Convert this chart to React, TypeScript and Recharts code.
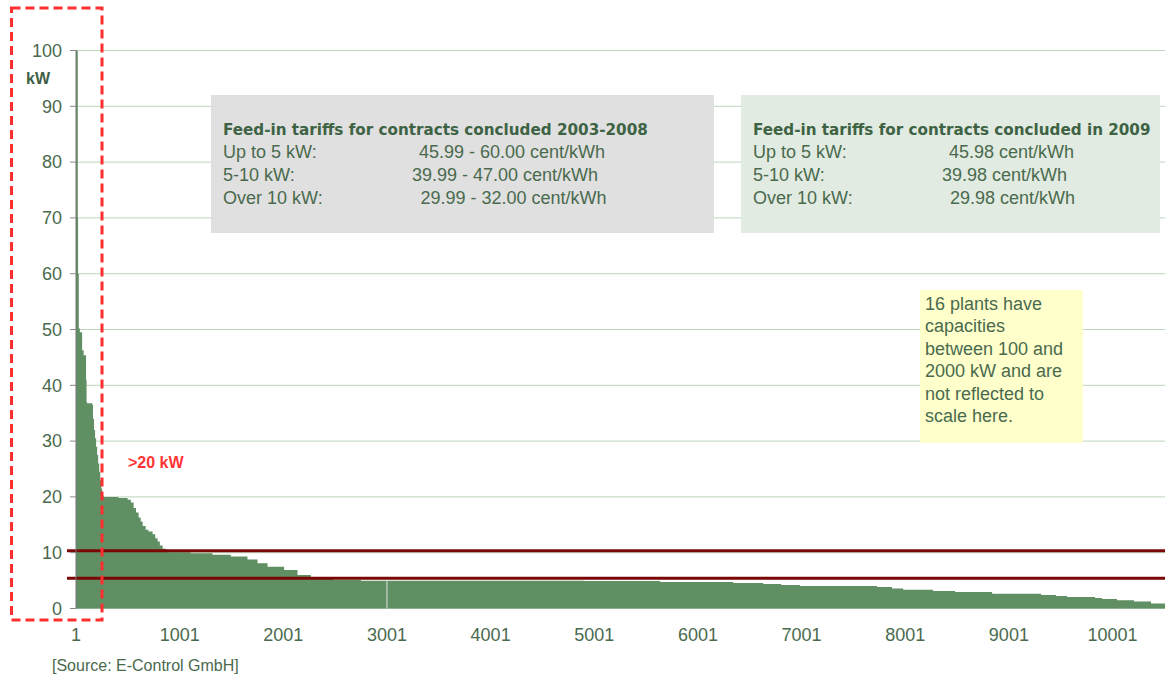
import React from 'react';
import { AreaChart, Area, XAxis, YAxis, CartesianGrid, ReferenceLine } from 'recharts';

// plants sorted by capacity, descending (step points)
const plantRank = [
  1, 18, 21, 28, 38, 60, 75, 98, 103, 108, 157, 165, 175, 185, 195, 205, 215, 225, 235, 245, 253, 262,
  269, 412, 499, 530, 557, 580, 605, 625, 644, 673, 700, 740, 765, 788, 810, 837, 870, 895, 1107, 1317,
  1494, 1655, 1752, 1849, 2009, 2138, 2267, 2490, 2750, 4900, 5637, 6341, 6630, 6804, 6987, 7730, 7874,
  7981, 8270, 8482, 8839, 9312, 9456, 9562, 9832, 9900, 10044, 10208, 10372, 10507,
];
const capacityKw = [
  100, 70, 60, 50.2, 49.5, 46.3, 45.4, 41, 37, 36.8, 36.5, 34, 32, 30.5, 29, 27.5, 26, 24.5, 23, 21.5, 20.8, 20.2,
  20, 19.8, 19.5, 19, 18, 17.2, 16.3, 15.6, 14.8, 14.1, 13.8, 13.3, 12.6, 12, 11.3, 10.7, 10.4, 10.1, 9.9, 9.65,
  9.3, 8.8, 8.1, 7.5, 6.9, 6.0, 5.4, 5.1, 4.98, 4.92, 4.74, 4.56, 4.38, 4.2, 4.02, 3.84, 3.6,
  3.36, 3.12, 2.94, 2.65, 2.4, 2.23, 2.05, 1.87, 1.69, 1.5, 1.27, 0.9, 0.9,
];
const xTicks = [1, 1001, 2001, 3001, 4001, 5001, 6001, 7001, 8001, 9001, 10001];
const yTicks = [0, 10, 20, 30, 40, 50, 60, 70, 80, 90, 100];
const tariffLimits = [10.35, 5.4];

const tariffs2008 = [
  ['Up to 5 kW:', '45.99 - 60.00 cent/kWh', 196],
  ['5-10 kW:', '39.99 - 47.00 cent/kWh', 189],
  ['Over 10 kW:', '29.99 - 32.00 cent/kWh', 197.5],
];
const tariffs2009 = [
  ['Up to 5 kW:', '45.98 cent/kWh', 196],
  ['5-10 kW:', '39.98 cent/kWh', 189],
  ['Over 10 kW:', '29.98 cent/kWh', 197],
];

const data = plantRank.map((rank, i) => ({ rank, kw: capacityKw[i] }));

const textColor = '#4a6a4e';
const font = '"Liberation Sans", Arial, sans-serif';

const RedLine = (props: any) => (
  <line x1={props.x1 - 9} y1={props.y1} x2={props.x2} y2={props.y2} stroke="#7a0606" strokeWidth={3} />
);

const TariffBox = ({ left, width, bg, title, rows }: any) => (
  <div style={{ position: 'absolute', left, top: 95, width, height: 138, background: bg }}>
    <div
      style={{
        position: 'absolute', left: 12, top: 24.5, whiteSpace: 'nowrap',
        fontFamily: '"DejaVu Sans", sans-serif', fontWeight: 'bold', fontSize: 15.2, lineHeight: '21.5px', color: '#3d6344',
      }}
    >
      {title}
    </div>
    {rows.map((r: any, i: number) => (
      <div key={i} style={{ position: 'absolute', top: 46 + i * 23, left: 12, width: width - 12, fontSize: 18, lineHeight: '23px', color: textColor, whiteSpace: 'nowrap' }}>
        <span>{r[0]}</span>
        <span style={{ position: 'absolute', left: r[2] }}>{r[1]}</span>
      </div>
    ))}
  </div>
);

export default function App() {
  return (
    <div style={{ position: 'absolute', left: 0, top: 0, width: 1165, height: 678, background: '#fff', fontFamily: font, overflow: 'hidden' }}>
      <AreaChart width={1165} height={678} data={data} margin={{ top: 50.5, right: 0, bottom: 29.5, left: 0 }}>
        <CartesianGrid vertical={false} stroke="#bcd4bc" />
        <XAxis
          dataKey="rank"
          type="number"
          domain={[1, 10507]}
          ticks={xTicks}
          interval={0}
          height={40}
          axisLine={false}
          tickLine={false}
          tickMargin={20}
          tickSize={0}
          tick={{ fill: textColor, fontSize: 18, fontFamily: font }}
        />
        <YAxis
          width={76}
          domain={[0, 100]}
          ticks={yTicks}
          interval={0}
          tickSize={6}
          tickMargin={8}
          axisLine={{ stroke: '#777' }}
          tickLine={{ stroke: '#888' }}
          tick={{ fill: textColor, fontSize: 18, fontFamily: font }}
        />
        <Area
          type="stepAfter"
          dataKey="kw"
          stroke="none"
          fill="#5f8f63"
          fillOpacity={1}
          isAnimationActive={false}
        />
        <ReferenceLine
          segment={[{ x: 3001, y: 0 }, { x: 3001, y: 4.98 }]}
          stroke="#d8e4d8"
          strokeWidth={1}
        />
        {tariffLimits.map((v) => (
          <ReferenceLine key={v} y={v} shape={RedLine} />
        ))}
      </AreaChart>

      <TariffBox left={211} width={503} bg="#e0e0e0" title="Feed-in tariffs for contracts concluded 2003-2008" rows={tariffs2008} />
      <TariffBox left={741} width={419} bg="#e1ebe1" title="Feed-in tariffs for contracts concluded in 2009" rows={tariffs2009} />

      <div
        style={{
          position: 'absolute', left: 920, top: 290, width: 163, height: 153, background: '#ffffcc',
          boxSizing: 'border-box', padding: '2.5px 0 0 5px', fontSize: 18, lineHeight: '22.5px', color: textColor,
        }}
      >
        16 plants have<br />capacities<br />between 100 and<br />2000 kW and are<br />not reflected to<br />scale here.
      </div>

      <div style={{ position: 'absolute', left: 26, top: 70, fontSize: 16, lineHeight: '18px', fontWeight: 'bold', color: '#3f5f45' }}>kW</div>
      <div style={{ position: 'absolute', left: 128, top: 454, fontSize: 16, lineHeight: '18px', fontWeight: 'bold', color: '#ff3535' }}>&gt;20 kW</div>
      <div style={{ position: 'absolute', left: 52, top: 657, fontSize: 16, lineHeight: '18px', color: textColor }}>[Source: E-Control GmbH]</div>

      <svg width={1165} height={678} style={{ position: 'absolute', left: 0, top: 0, pointerEvents: 'none' }}>
        <rect x={11.5} y={8} width={90.5} height={612} fill="none" stroke="#ff2f2f" strokeWidth={3} strokeDasharray="9 5" />
      </svg>
    </div>
  );
}
